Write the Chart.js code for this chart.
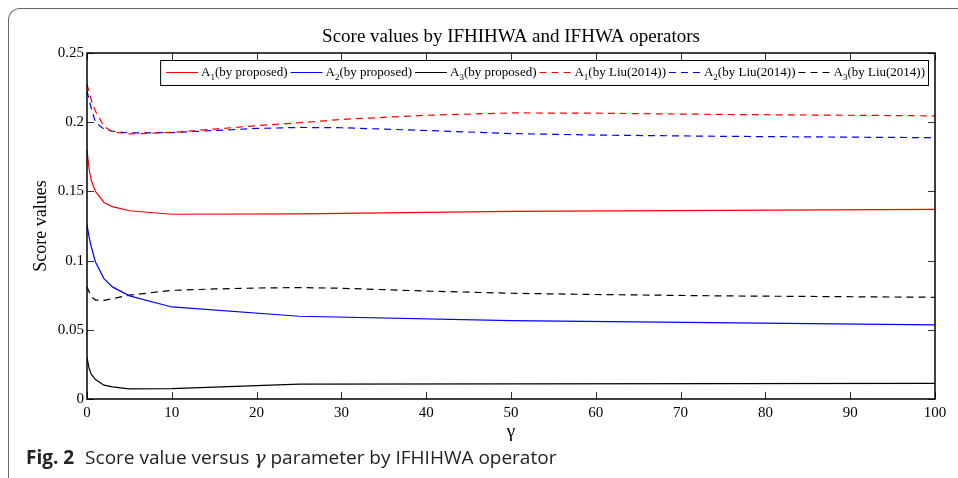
<!DOCTYPE html>
<html>
<head>
<meta charset="utf-8">
<script src="https://cdn.jsdelivr.net/npm/chart.js@4.4.0/dist/chart.umd.min.js"></script>
<style>
  html, body { margin: 0; padding: 0; background: #fff; }
  body { width: 958px; height: 478px; position: relative; overflow: hidden; }
  #marco {
    position: absolute; left: 8px; top: 8px; width: 960px; height: 480px;
    border-top: 1.5px solid #666; border-left: 1.5px solid #666;
    border-top-left-radius: 12px;
  }
  #grafico { position: absolute; left: 0; top: 0; }
  #pie {
    position: absolute; left: 26px; top: 444px;
    font-family: "Open Sans", "Noto Sans", sans-serif; font-size: 19px; color: #222;
  }
  #pie b { font-weight: 700; margin-right: 6px; }
  #pie i { font-family: "DejaVu Serif", serif; }
</style>
</head>
<body>
<div id="marco"></div>
<canvas id="grafico" width="958" height="445"></canvas>
<div id="pie"><b>Fig. 2</b> Score value versus <i>γ</i> parameter by IFHIHWA operator</div>
<script>
(function () {
    'use strict';

    // valores
    var gammaProp = [0, 0.25, 0.5, 1, 2, 3, 5, 10, 25, 50, 100];
    var a1Prop = [0.180, 0.166, 0.158, 0.150, 0.142, 0.139, 0.136, 0.1335, 0.1337, 0.1355, 0.137];
    var a2Prop = [0.126, 0.117, 0.110, 0.099, 0.087, 0.081, 0.0745, 0.0665, 0.0598, 0.0567, 0.0535];
    var a3Prop = [0.030, 0.022, 0.018, 0.014, 0.010, 0.0087, 0.0073, 0.0075, 0.0108, 0.011, 0.0113];

    var gammaLiu = [0, 0.5, 1, 2, 3, 5, 10, 15, 20, 25, 30, 40, 50, 60, 75, 100];
    var a1Liu = [0.2275, 0.216, 0.208, 0.197, 0.193, 0.1915, 0.1926, 0.195, 0.1975, 0.1996, 0.202, 0.205, 0.2067, 0.2065, 0.2056, 0.2046];
    var a2Liu = [0.2226, 0.210, 0.200, 0.195, 0.1935, 0.1922, 0.1925, 0.194, 0.1955, 0.1962, 0.196, 0.194, 0.1918, 0.1907, 0.1898, 0.1888];
    var a3Liu = [0.081, 0.074, 0.0715, 0.0713, 0.0725, 0.075, 0.0785, 0.0795, 0.0802, 0.0805, 0.080, 0.078, 0.0764, 0.0755, 0.0745, 0.0735];

    var etiquetas = ['A1(by proposed)', 'A2(by proposed)', 'A3(by proposed)',
                     'A1(by Liu(2014))', 'A2(by Liu(2014))', 'A3(by Liu(2014))'];
    var colores = ['#ff0000', '#0000ff', '#000000', '#ff0000', '#0000ff', '#000000'];
    var titulo = 'Score values by IFHIHWA and IFHWA operators';

    var serif = '"Liberation Serif", "Times New Roman", serif';

    function puntos(xs, ys) {
        return xs.map(function (x, i) { return { x: x, y: ys[i] }; });
    }

    var series = [
        puntos(gammaProp, a1Prop), puntos(gammaProp, a2Prop), puntos(gammaProp, a3Prop),
        puntos(gammaLiu, a1Liu), puntos(gammaLiu, a2Liu), puntos(gammaLiu, a3Liu)
    ];

    var datasets = series.map(function (d, i) {
        return {
            label: etiquetas[i],
            data: d,
            borderColor: colores[i],
            borderWidth: 1.2,
            borderDash: i >= 3 ? [7, 5] : [],
            pointRadius: 0,
            tension: 0,
            fill: false
        };
    });

    // caja, marcas hacia dentro, título y leyenda estilo MATLAB
    var marcoMatlab = {
        id: 'marcoMatlab',
        afterDatasetsDraw: function (chart) {
            var ctx = chart.ctx, a = chart.chartArea;
            var sx = chart.scales.x, sy = chart.scales.y;
            ctx.save();
            ctx.strokeStyle = '#333';
            ctx.lineWidth = 1;
            sx.ticks.forEach(function (t) {
                var px = Math.round(sx.getPixelForValue(t.value)) + 0.5;
                ctx.beginPath();
                ctx.moveTo(px, a.bottom); ctx.lineTo(px, a.bottom - 7);
                ctx.moveTo(px, a.top); ctx.lineTo(px, a.top + 7);
                ctx.stroke();
            });
            sy.ticks.forEach(function (t) {
                var py = Math.round(sy.getPixelForValue(t.value)) + 0.5;
                ctx.beginPath();
                ctx.moveTo(a.left, py); ctx.lineTo(a.left + 7, py);
                ctx.moveTo(a.right, py); ctx.lineTo(a.right - 7, py);
                ctx.stroke();
            });
            ctx.strokeStyle = '#000';
            ctx.lineWidth = 1.5;
            ctx.strokeRect(a.left, a.top, a.right - a.left, a.bottom - a.top);

            // título centrado sobre el área del gráfico
            ctx.fillStyle = '#000';
            ctx.font = '19px ' + serif;
            ctx.textAlign = 'center';
            ctx.textBaseline = 'middle';
            ctx.fillText(titulo, (a.left + a.right) / 2, 37);

            // leyenda
            var fuente = '13px ' + serif, fuenteSub = '9px ' + serif;
            var linea = 32, pad = 6, hueco = 3;
            var anchos = etiquetas.map(function (e) {
                ctx.font = fuente;
                var w = ctx.measureText(e.charAt(0)).width + ctx.measureText(e.slice(2)).width;
                ctx.font = fuenteSub;
                return w + ctx.measureText(e.charAt(1)).width;
            });
            var total = pad;
            anchos.forEach(function (w) { total += linea + hueco + w + hueco; });
            var der = a.right - 7, top = a.top + 7, alto = 25;
            var izq = der - total;
            ctx.fillStyle = '#fff';
            ctx.fillRect(izq, top, total, alto);
            ctx.lineWidth = 1;
            ctx.strokeStyle = '#000';
            ctx.strokeRect(izq + 0.5, top + 0.5, total, alto);
            var x = izq + pad, yc = top + alto / 2;
            chart.data.datasets.forEach(function (ds) {
                ctx.strokeStyle = ds.borderColor;
                ctx.lineWidth = 1.2;
                ctx.setLineDash(ds.borderDash);
                ctx.beginPath();
                ctx.moveTo(x, yc); ctx.lineTo(x + linea, yc);
                ctx.stroke();
                ctx.setLineDash([]);
                x += linea + hueco;
                var e = ds.label;
                ctx.fillStyle = '#000';
                ctx.textBaseline = 'middle';
                ctx.textAlign = 'left';
                ctx.font = fuente;
                ctx.fillText(e.charAt(0), x, yc);
                x += ctx.measureText(e.charAt(0)).width;
                ctx.font = fuenteSub;
                ctx.fillText(e.charAt(1), x, yc + 5);
                x += ctx.measureText(e.charAt(1)).width;
                ctx.font = fuente;
                ctx.fillText(e.slice(2), x, yc);
                x += ctx.measureText(e.slice(2)).width + hueco;
            });
            ctx.restore();
        }
    };

    new Chart(document.getElementById('grafico').getContext('2d'), {
        type: 'line',
        data: { datasets: datasets },
        plugins: [marcoMatlab],
        options: {
            responsive: false,
            animation: false,
            layout: { padding: { left: 0, right: 23, top: 53, bottom: 0 } },
            plugins: {
                legend: { display: false },
                tooltip: { enabled: false },
                title: { display: false }
            },
            scales: {
                x: {
                    type: 'linear',
                    min: 0, max: 100,
                    grid: { display: false, drawTicks: false },
                    border: { display: false },
                    ticks: { stepSize: 10, color: '#000', padding: 5, maxRotation: 0,
                             font: { family: serif, size: 15 } },
                    title: { display: true, text: 'γ', color: '#000',
                             font: { family: serif, size: 19 }, padding: { top: 0, bottom: 2 } },
                    afterFit: function (s) { s.height = 46; }
                },
                y: {
                    min: 0, max: 0.25,
                    grid: { display: false, drawTicks: false },
                    border: { display: false },
                    ticks: { stepSize: 0.05, color: '#000', padding: 3,
                             font: { family: serif, size: 15 },
                             callback: function (v) { return String(+v.toFixed(2)); } },
                    title: { display: true, text: 'Score values', color: '#000',
                             font: { family: serif, size: 18 }, padding: { top: 30, bottom: 0 } },
                    afterFit: function (s) { s.width = 87; }
                }
            }
        }
    });
})();
</script>
</body>
</html>
